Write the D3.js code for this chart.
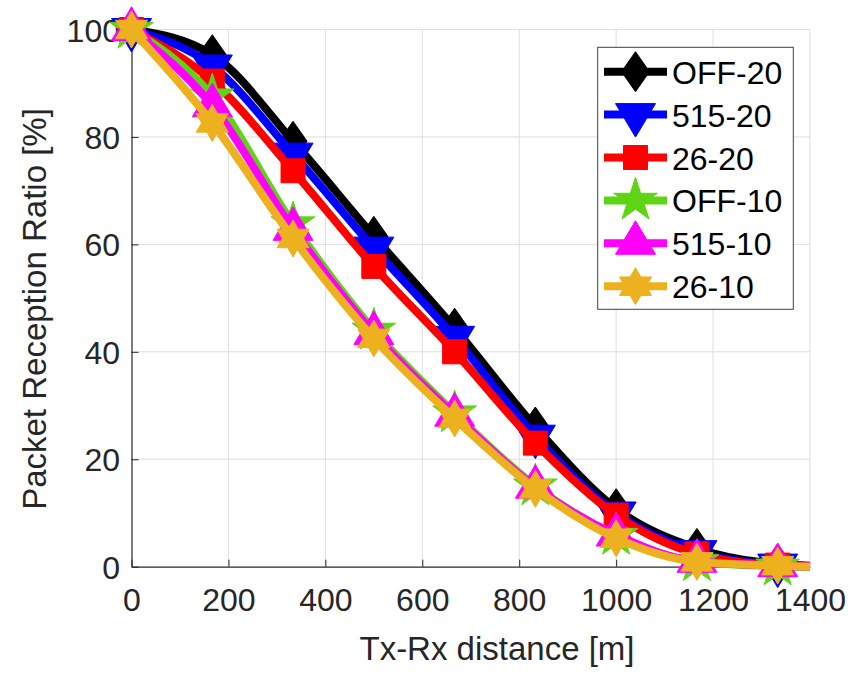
<!DOCTYPE html>
<html>
<head>
<meta charset="utf-8">
<script src="https://cdn.jsdelivr.net/npm/d3@7"></script>
<style>
  body { margin: 0; background: #fff; }
  text { font-family: "Liberation Sans", Arial, sans-serif; }
</style>
</head>
<body>
<svg id="chart" width="848" height="688"></svg>
<script>
// ====================================== DATA ================================================
// distance [m]; markers sit on the first 9 samples, the last one only carries the line to the edge
const distances = [0, 166.7, 333.3, 500, 666.7, 833.3, 1000, 1166.7, 1333.3, 1400];

const off20   = [100, 95.3, 79.2, 61.5, 44.4, 26.0, 10.8, 3.4, 0.5, 0.2];
const p515_20 = [100, 93.2, 76.8, 59.3, 42.7, 24.3, 10.0, 2.8, 0.3, 0.1];
const p26_20  = [100, 90.4, 73.7, 55.9, 40.0, 23.0, 9.6, 2.4, 0.3, 0.1];
const off10   = [100, 87.6, 63.8, 44.0, 28.6, 15.0, 5.8, 0.9, 0.1, 0.0];
const p515_10 = [100, 85.8, 62.8, 43.4, 28.2, 14.8, 5.9, 1.0, 0.2, 0.0];
const p26_10  = [100, 82.6, 61.1, 42.5, 27.6, 14.5, 5.3, 0.9, 0.2, 0.0];

const seriesNames = ["OFF-20", "515-20", "26-20", "OFF-10", "515-10", "26-10"];
const seriesValues = [off20, p515_20, p26_20, off10, p515_10, p26_10];
const seriesColors = ["#000000", "#0000ff", "#ff0000", "#5fd316", "#ff00ff", "#edb120"];
const seriesMarkers = ["diamond", "down", "square", "pentagram", "up", "hexagram"];

const xTicks = [0, 200, 400, 600, 800, 1000, 1200, 1400];
const yTicks = [0, 20, 40, 60, 80, 100];
const markerCount = 9;

// ====================================== MARKER SHAPES ========================================
const outline = d3.line();

function starPoints(R, r, n) {
  const pts = [];
  for (let i = 0; i < 2 * n; i++) {
    const a = -Math.PI / 2 + i * Math.PI / n;
    const rad = i % 2 === 0 ? R : r;
    pts.push([rad * Math.cos(a), rad * Math.sin(a)]);
  }
  return pts;
}

const shapes = {
  diamond:   [[0, -20], [14, 0], [0, 20], [-14, 0]],
  down:      [[-20, -11], [20, -11], [0, 22.5]],
  up:        [[-20, 11], [20, 11], [0, -22.5]],
  square:    [[-12, -12], [12, -12], [12, 12], [-12, 12]],
  pentagram: starPoints(23, 23 * 0.382, 5),
  hexagram:  starPoints(18.5, 18.5 / Math.sqrt(3), 6)
};
const markerPath = name => outline(shapes[name]) + "Z";

// ====================================== CANVAS ===============================================
const svg = d3.select("#chart");

const x = d3.scaleLinear().domain([0, 1400]).range([131.5, 810]);
const y = d3.scaleLinear().domain([0, 100]).range([566.7, 29.5]);

// grid
const grid = svg.append("g").attr("stroke", "#dedede").attr("stroke-width", 1);
grid.selectAll(".gx").data(xTicks.slice(1)).enter().append("line")
  .attr("x1", d => x(d)).attr("x2", d => x(d))
  .attr("y1", y(0)).attr("y2", y(100));
grid.selectAll(".gy").data(yTicks.slice(1)).enter().append("line")
  .attr("x1", x(0)).attr("x2", x(1400))
  .attr("y1", d => y(d)).attr("y2", d => y(d));

// axes
const xAxis = svg.append("g")
  .attr("transform", `translate(0,${y(0)})`)
  .call(d3.axisBottom(x).tickValues(xTicks).tickFormat(d3.format("d"))
    .tickSizeInner(-7).tickSizeOuter(0).tickPadding(22));
const yAxis = svg.append("g")
  .attr("transform", `translate(${x(0)},0)`)
  .call(d3.axisLeft(y).tickValues(yTicks).tickFormat(d3.format("d"))
    .tickSizeInner(-7).tickSizeOuter(0).tickPadding(11.5));

[xAxis, yAxis].forEach(g => {
  g.select(".domain").attr("stroke", "#262626").attr("stroke-width", 1.2);
  g.selectAll(".tick line").attr("stroke", "#262626");
  g.selectAll(".tick text").attr("fill", "#262626").style("font-size", "32px")
    .style("font-family", "'Liberation Sans', Arial, sans-serif");
});
xAxis.selectAll(".tick line").filter(d => d === 1400).remove();
yAxis.selectAll(".tick line").filter(d => d === 100).remove();
yAxis.selectAll(".tick text").attr("dy", "0.36em");

// axis labels
svg.append("text")
  .attr("x", 497).attr("y", 660)
  .attr("text-anchor", "middle")
  .attr("fill", "#262626")
  .style("font-size", "33px")
  .text("Tx-Rx distance [m]");

svg.append("text")
  .attr("transform", "translate(46,309) rotate(-90)")
  .attr("text-anchor", "middle")
  .attr("fill", "#262626")
  .style("font-size", "33px")
  .text("Packet Reception Ratio [%]");

// ====================================== SERIES ===============================================
const curve = d3.line()
  .x((d, i) => x(distances[i]))
  .y(d => y(d))
  .curve(d3.curveMonotoneX);

seriesValues.forEach((vals, k) => {
  const g = svg.append("g");
  g.append("path")
    .attr("d", curve(vals))
    .attr("fill", "none")
    .attr("stroke", seriesColors[k])
    .attr("stroke-width", 8)
    .attr("stroke-linejoin", "round");
  g.selectAll("path.mk")
    .data(vals.slice(0, markerCount))
    .enter()
    .append("path")
    .attr("class", "mk")
    .attr("transform", (d, i) => `translate(${x(distances[i])},${y(d)})`)
    .attr("d", markerPath(seriesMarkers[k]))
    .attr("fill", seriesColors[k])
    .attr("stroke", seriesColors[k])
    .attr("stroke-width", 1);
});

// ====================================== LEGEND ===============================================
const legend = svg.append("g");
legend.append("rect")
  .attr("x", 597.7).attr("y", 47.3)
  .attr("width", 195.6).attr("height", 262)
  .attr("fill", "#fff")
  .attr("stroke", "#404040")
  .attr("stroke-width", 1);

const rows = legend.selectAll(".row")
  .data(seriesNames)
  .enter()
  .append("g")
  .attr("transform", (d, i) => `translate(0,${71.7 + i * 42.9})`);

rows.append("line")
  .attr("x1", 604).attr("x2", 667)
  .attr("stroke", (d, i) => seriesColors[i])
  .attr("stroke-width", 8);
rows.append("path")
  .attr("transform", "translate(635.5,0)")
  .attr("d", (d, i) => markerPath(seriesMarkers[i]))
  .attr("fill", (d, i) => seriesColors[i])
  .attr("stroke", (d, i) => seriesColors[i]);
rows.append("text")
  .attr("x", 672).attr("y", 12)
  .attr("fill", "#000")
  .style("font-size", "32px")
  .text(d => d);
</script>
</body>
</html>
